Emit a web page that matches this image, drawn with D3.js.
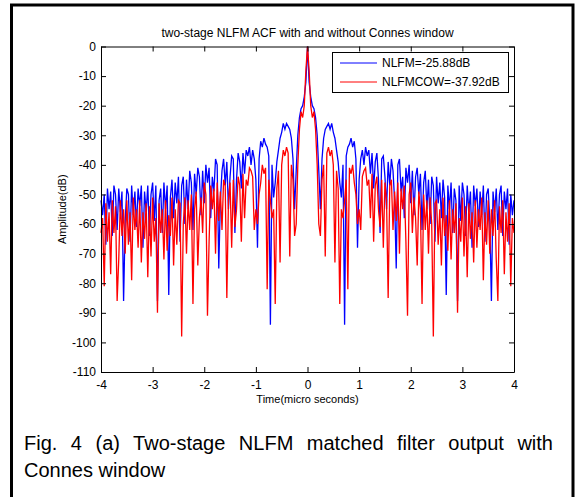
<!DOCTYPE html>
<html>
<head>
<meta charset="utf-8">
<script src="https://cdn.jsdelivr.net/npm/d3@7"></script>
<style>
  body { margin: 0; background: #fff; }
  svg { display: block; font-family: Arial, "Liberation Sans", sans-serif; }
</style>
</head>
<body>
<script>
// ACF is symmetric, so only the lags 0..4 us are listed (step 4/128 us)
const lagStep = 4 / 128;

const nlfmHalf = [
  0, -12, -17, -20, -21, -24, -30, -42, -55, -38,
  -31, -28, -27, -26, -28, -26, -29, -31, -35, -39,
  -46, -51, -40, -94, -37, -34, -33, -31, -34, -32,
  -38, -68, -45, -38, -35, -40, -34, -37, -35, -43,
  -36, -48, -39, -36, -45, -63, -38, -37, -44, -55,
  -39, -47, -38, -42, -52, -75, -40, -38, -49, -44,
  -58, -41, -46, -40, -53, -42, -57, -44, -41, -50,
  -43, -62, -46, -42, -55, -45, -60, -44, -47, -66,
  -44, -53, -46, -58, -45, -51, -84, -47, -55, -46,
  -63, -48, -52, -86, -47, -59, -46, -50, -64, -47,
  -56, -49, -68, -47, -54, -48, -61, -49, -57, -47,
  -66, -50, -48, -59, -86, -49, -56, -48, -62, -50,
  -47, -64, -49, -55, -48, -67, -50, -57, -52
];

const nlfmCowHalf = [
  0, -8, -20, -24, -22, -28, -40, -60, -64, -45,
  -40, -71, -36, -34, -37, -35, -40, -73, -42, -48,
  -87, -55, -58, -52, -45, -82, -41, -43, -40, -46,
  -50, -60, -55, -62, -44, -42, -41, -47, -45, -58,
  -43, -66, -47, -44, -55, -61, -45, -68, -46, -52,
  -85, -47, -45, -62, -49, -59, -46, -70, -48, -55,
  -47, -66, -91, -50, -46, -63, -51, -58, -74, -49,
  -55, -87, -50, -62, -52, -70, -51, -60, -98, -53,
  -52, -67, -55, -74, -51, -64, -57, -69, -52, -72,
  -55, -63, -53, -90, -58, -66, -51, -71, -54, -78,
  -53, -65, -56, -73, -52, -68, -55, -62, -51, -79,
  -56, -67, -52, -70, -55, -64, -52, -72, -86, -54,
  -63, -52, -77, -56, -66, -53, -81, -58, -63
];

const seriesNames = ['NLFM=-25.88dB', 'NLFMCOW=-37.92dB'];
const seriesColours = ['#0000ff', '#ff0000'];
const xTicks = [-4, -3, -2, -1, 0, 1, 2, 3, 4];
const yTicks = [0, -10, -20, -30, -40, -50, -60, -70, -80, -90, -100, -110];

const width = 577;
const height = 497;
const plot = { left: 101, right: 514, top: 46.5, bottom: 372 };

// mirror the half lags into the full two-sided ACF
function fullSeries(half) {
    const n = half.length - 1;
    return d3.range(-n, n + 1).map((k) => ({ t: k * lagStep, db: half[Math.abs(k)] }));
}
const series = [fullSeries(nlfmHalf), fullSeries(nlfmCowHalf)];

const xScale = d3.scaleLinear().domain([-4, 4]).range([plot.left, plot.right]);
const yScale = d3.scaleLinear().domain([-110, 0]).range([plot.bottom, plot.top]);

const svg = d3.select('body')
              .append('svg')
                .attr('width', width)
                .attr('height', height);

svg.append('rect')
     .attr('width', width)
     .attr('height', height)
     .attr('fill', '#fff');

// figure frame
svg.append('rect')
     .attr('x', 11.5)
     .attr('y', 5)
     .attr('width', 561.5)
     .attr('height', 505)
     .attr('fill', 'none')
     .attr('stroke', '#000')
     .attr('stroke-width', 3);

// title
svg.append('text')
     .attr('x', (plot.left + plot.right) / 2)
     .attr('y', 37)
     .attr('text-anchor', 'middle')
     .attr('font-size', 12)
     .text('two-stage NLFM ACF with and without Connes window');

// lines
const line = d3.line()
               .x((d) => xScale(d.t))
               .y((d) => yScale(d.db));

svg.selectAll('path.series')
   .data(series)
   .enter()
     .append('path')
       .attr('class', 'series')
       .attr('d', line)
       .attr('fill', 'none')
       .attr('stroke', (d, i) => seriesColours[i])
       .attr('stroke-width', 1.3);

// axes, ticks pointing inside like matlab
const fmt = (d) => String(d);
svg.append('g')
     .attr('transform', `translate(0, ${plot.bottom})`)
     .call(d3.axisBottom(xScale).tickValues(xTicks).tickFormat(fmt).tickSizeInner(-5).tickSizeOuter(0).tickPadding(8));
svg.append('g')
     .attr('transform', `translate(0, ${plot.top})`)
     .call(d3.axisTop(xScale).tickValues(xTicks).tickFormat('').tickSizeInner(-5).tickSizeOuter(0));
svg.append('g')
     .attr('transform', `translate(${plot.left}, 0)`)
     .call(d3.axisLeft(yScale).tickValues(yTicks).tickFormat(fmt).tickSizeInner(-5).tickSizeOuter(0).tickPadding(5));
svg.append('g')
     .attr('transform', `translate(${plot.right}, 0)`)
     .call(d3.axisRight(yScale).tickValues(yTicks).tickFormat('').tickSizeInner(-5).tickSizeOuter(0));

svg.selectAll('.tick text')
   .attr('font-size', 12)
   .attr('font-family', 'Arial, "Liberation Sans", sans-serif')
   .attr('fill', '#000');
svg.selectAll('.domain, .tick line')
   .attr('stroke', '#000');

// axis labels
svg.append('text')
     .attr('x', (plot.left + plot.right) / 2)
     .attr('y', 403)
     .attr('text-anchor', 'middle')
     .attr('font-size', 11)
     .text('Time(micro seconds)');

svg.append('text')
     .attr('transform', `translate(66, ${(plot.top + plot.bottom) / 2}) rotate(-90)`)
     .attr('text-anchor', 'middle')
     .attr('font-size', 11)
     .text('Amplitude(dB)');

// legend
const legend = svg.append('g');
legend.append('rect')
        .attr('x', 332.5)
        .attr('y', 52.5)
        .attr('width', 176)
        .attr('height', 40)
        .attr('fill', '#fff')
        .attr('stroke', '#000');
seriesNames.forEach((name, i) => {
    const y = 63 + i * 19;
    legend.append('line')
            .attr('x1', 340).attr('x2', 377)
            .attr('y1', y).attr('y2', y)
            .attr('stroke', seriesColours[i]);
    legend.append('text')
            .attr('x', 382)
            .attr('y', y + 4)
            .attr('font-size', 12)
            .text(name);
});

// caption, first line justified
const caption = svg.append('text')
                     .attr('x', 24)
                     .attr('y', 450)
                     .attr('font-size', 20)
                     .text('Fig. 4 (a) Two-stage NLFM matched filter output with');
const natural = caption.node().getComputedTextLength();
caption.attr('word-spacing', (553 - 24 - natural) / 8);

svg.append('text')
     .attr('x', 24)
     .attr('y', 477)
     .attr('font-size', 20)
     .text('Connes window');
</script>
</body>
</html>
